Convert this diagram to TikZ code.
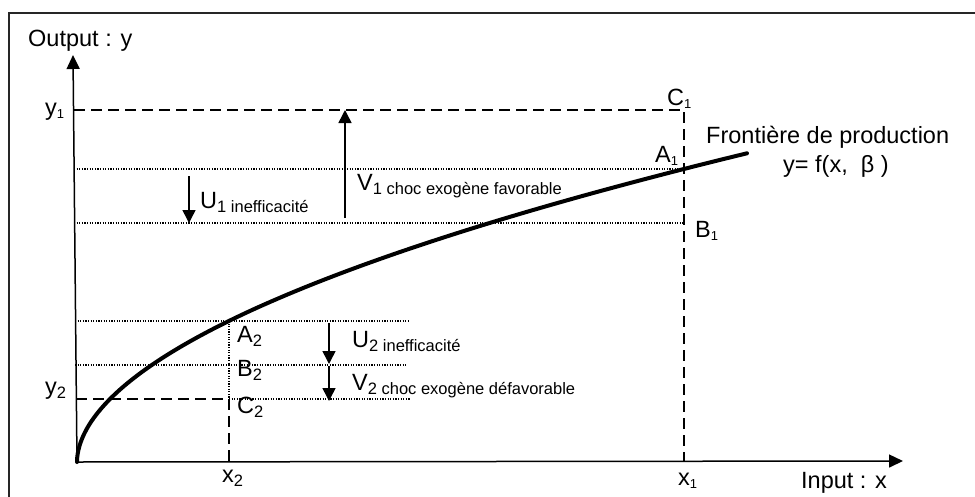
\documentclass[tikz,border=0pt]{standalone}
\usepackage{fontspec}
\setmainfont{Liberation Sans}
\usetikzlibrary{arrows.meta}
\newcommand\lowsmall[1]{\raisebox{-3pt}{\fontsize{13}{15}\selectfont #1}}
\newcommand\lowmid[1]{\raisebox{-4.5pt}{\fontsize{16.5}{19}\selectfont #1}}
\begin{document}
\begin{tikzpicture}[x=1pt,y=-1pt,
  txt/.style={inner sep=0pt,anchor=base west,font=\fontsize{23.5}{28}\selectfont},
  axis/.style={line width=1.5pt,-{Triangle[length=14pt,width=13pt]}},
  dashline/.style={line width=1.4pt,dash pattern=on 11pt off 6pt},
  dotline/.style={line width=1.1pt,dash pattern=on 1.1pt off 1.5pt},
  shock/.style={line width=1.5pt,-{Triangle[length=13pt,width=13pt]}},
  frontier/.style={line width=4pt,line cap=round}]
\useasboundingbox (0,0) rectangle (975,496);
% frame
\draw[line width=2pt,black!85] (9,500) -- (9,13) -- (980,13);
% key points
\coordinate (O) at (77,462);
\coordinate (Ytop) at (73,55);
\coordinate (Xend) at (903,461);
\coordinate (Y1) at (74,110);
\coordinate (C1) at (684,110);
\coordinate (X1) at (684,461);
\coordinate (Y2) at (76,399);
\coordinate (C2) at (229,399);
\coordinate (X2) at (229,461);
\coordinate (A2) at (229,321);
\coordinate (L1a) at (74,169); \coordinate (A1) at (684,169);
\coordinate (L1b) at (74,223); \coordinate (B1) at (684,223);
\coordinate (L2a) at (75,321); \coordinate (R2a) at (410,321);
\coordinate (L2b) at (75,365); \coordinate (R2b) at (406,365);
\coordinate (R2c) at (410,399);
% axes
\draw[axis] (O) -- (Ytop);
\draw[axis] (O) -- (Xend);
% dashed projections
\draw[dashline] (Y1) -- (C1) -- (X1);
\draw[dashline] (Y2) -- (C2) -- (X2);
% dotted levels
\draw[dotline] (L1a) -- (A1);
\draw[dotline] (L1b) -- (B1);
\draw[dotline] (L2a) -- (R2a);
\draw[dotline] (L2b) -- (R2b);
\draw[dotline] (C2) -- (R2c);
\draw[dotline] (A2) -- (C2);
% frontier
\draw[frontier] (O) -- plot[smooth,domain=0.05:31.06,samples=80] ({77+pow(\x,1.894)},{462-9.94*\x});
% shock arrows
\coordinate (V1s) at (345,218); \coordinate (V1e) at (345,110);
\coordinate (U1s) at (189,176); \coordinate (U1e) at (189,223);
\coordinate (U2s) at (329,323); \coordinate (U2e) at (329,364);
\coordinate (V2s) at (329,366); \coordinate (V2e) at (329,401);
\draw[shock] (V1s) -- (V1e);
\draw[shock] (U1s) -- (U1e);
\draw[shock] (U2s) -- (U2e);
\draw[shock] (V2s) -- (V2e);
% labels
\node[txt] (lout) at (28,46) {Output : y};
\node[txt] (lin) at (801,488) {Input : x};
\node[txt] (ly1) at (45,115) {y\lowsmall{1}};
\node[txt] (ly2) at (45,394) {y\lowmid{2}};
\node[txt] (lx1) at (678,485) {x\lowsmall{1}};
\node[txt] (lx2) at (222,482) {x\lowmid{2}};
\node[txt] (lC1) at (667,105) {C\lowsmall{1}};
\node[txt] (lA1) at (655,162) {A\lowsmall{1}};
\node[txt] (lB1) at (695,237) {B\lowsmall{1}};
\node[txt] (lA2) at (237,342) {A\lowmid{2}};
\node[txt] (lB2) at (237,376) {B\lowmid{2}};
\node[txt] (lC2) at (237,413) {C\lowmid{2}};
\node[txt] (lF) at (706,143) {Frontière de production};
\node[txt] (lf) at (783,172) {y= f(x,\ \ β )};
\node[txt] (lU1) at (200,208) {U\lowmid{1 inefficacité}};
\node[txt] (lV1) at (357,190) {V\lowmid{1 choc exogène favorable}};
\node[txt] (lU2) at (352,347) {U\lowmid{2 inefficacité}};
\node[txt] (lV2) at (352,390) {V\lowmid{2 choc exogène défavorable}};
\end{tikzpicture}
\end{document}
